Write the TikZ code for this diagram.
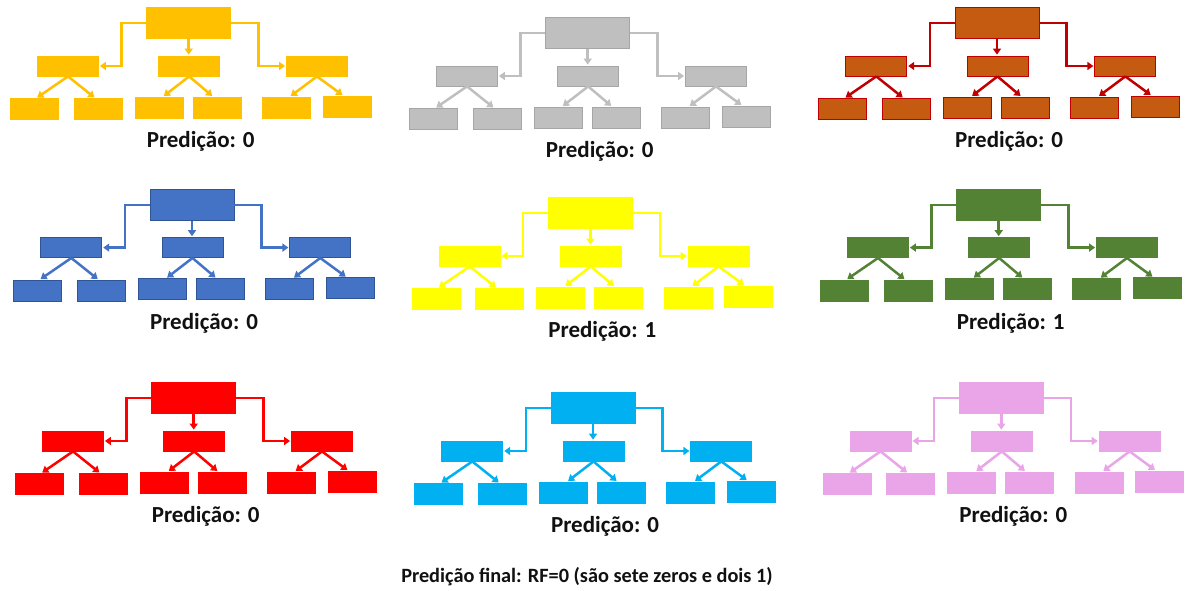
\documentclass[tikz,border=0pt]{standalone}
\usepackage{fontspec}
\setmainfont{Carlito}
\usetikzlibrary{arrows.meta}

\definecolor{cOrange}{HTML}{FFC000}
\definecolor{cGray}{HTML}{BFBFBF}
\definecolor{cGrayLine}{HTML}{A6A6A6}
\definecolor{cBrown}{HTML}{C55A11}
\definecolor{cDarkRed}{HTML}{C00000}
\definecolor{cBlue}{HTML}{4472C4}
\definecolor{cBlueLine}{HTML}{2F5597}
\definecolor{cYellow}{HTML}{FFFF00}
\definecolor{cGreen}{HTML}{548235}
\definecolor{cRed}{HTML}{FF0000}
\definecolor{cCyan}{HTML}{00B0F0}
\definecolor{cPink}{HTML}{EAA4E8}
\definecolor{cText}{HTML}{111111}

\tikzset{
  box/.style={rectangle, inner sep=0pt, line width=0.8pt},
  rootbox/.style={box, minimum width=84, minimum height=31},
  midbox/.style={box, minimum width=61, minimum height=20},
  leafbox/.style={box, minimum width=48, minimum height=21},
  conn/.style={line width=2.5pt, -{Triangle[length=6pt,width=8pt]}, shorten >=1pt},
  predlbl/.style={font=\bfseries\fontsize{23}{27}\selectfont, text=cText},
  finallbl/.style={font=\bfseries\fontsize{20.3}{24}\selectfont, text=cText}
}

% One decision tree: #1 id, #2/#3 top-left of the root box,
% #4 fill colour, #5 border colour, #6 connector colour, #7 prediction
\newcommand{\rftree}[7]{%
  \begin{scope}[shift={(#2,#3)}]
    \node[rootbox, fill=#4, draw=#5] (#1r) at (42,15.5) {};
    \node[midbox, fill=#4, draw=#5] (#1mL) at (-78.7,58.3) {};
    \node[midbox, fill=#4, draw=#5] (#1mC) at (42.5,58.3) {};
    \node[midbox, fill=#4, draw=#5] (#1mR) at (170.3,58.3) {};
    \node[leafbox, fill=#4, draw=#5] (#1lLL) at (-112.3,101.3) {};
    \node[leafbox, fill=#4, draw=#5] (#1lLR) at (-48.5,101.3) {};
    \node[leafbox, fill=#4, draw=#5] (#1lCL) at (12.3,99.8) {};
    \node[leafbox, fill=#4, draw=#5] (#1lCR) at (70.3,99.8) {};
    \node[leafbox, fill=#4, draw=#5] (#1lRL) at (139.7,99.8) {};
    \node[leafbox, fill=#4, draw=#5] (#1lRR) at (200.5,98.8) {};
    % root to the three inner nodes
    \draw[conn, draw=#6] (#1r.west) -- ++(-24.7,0) |- (#1mL.east);
    \draw[conn, draw=#6] (#1r.east) -- ++(27.3,0) |- (#1mR.west);
    \draw[conn, draw=#6] (#1r.south) -- (#1r.south |- #1mC.north);
    % inner nodes to the leaves
    \draw[conn, draw=#6] (#1mL.south) -- ([xshift=2pt]#1lLL.north);
    \draw[conn, draw=#6] (#1mL.south) -- ([xshift=-3pt]#1lLR.north);
    \draw[conn, draw=#6] (#1mC.south) -- ([xshift=4pt]#1lCL.north);
    \draw[conn, draw=#6] (#1mC.south) -- ([xshift=-4pt]#1lCR.north);
    \draw[conn, draw=#6] (#1mR.south) -- ([xshift=3.5pt]#1lRL.north);
    \draw[conn, draw=#6] (#1mR.south) -- ([xshift=-4pt]#1lRR.north);
    \node[predlbl] (#1p) at (54,134) {Predição: #7};
  \end{scope}%
}

\begin{document}
\begin{tikzpicture}[x=1pt, y=-1pt]
  \fill[white] (0,0) rectangle (1186,591);
  \useasboundingbox (0,0) rectangle (1186,591);

  \rftree{a}{146.7}{7.7}{cOrange}{cOrange}{cOrange}{0}
  \rftree{b}{545.7}{17.7}{cGray}{cGrayLine}{cGray}{0}
  \rftree{c}{955}{7.7}{cBrown}{cDarkRed}{cDarkRed}{0}

  \rftree{d}{150}{189.3}{cBlue}{cBlueLine}{cBlue}{0}
  \rftree{e}{548.3}{197.7}{cYellow}{cYellow}{cYellow}{1}
  \rftree{f}{956.7}{189.3}{cGreen}{cGreen}{cGreen}{1}

  \rftree{g}{151.7}{382.7}{cRed}{cRed}{cRed}{0}
  \rftree{h}{551}{392.7}{cCyan}{cCyan}{cCyan}{0}
  \rftree{i}{959.3}{382.7}{cPink}{cPink}{cPink}{0}

  \node[finallbl] (final) at (587,577) {Predição final: RF=0 (são sete zeros e dois 1)};
\end{tikzpicture}
\end{document}
